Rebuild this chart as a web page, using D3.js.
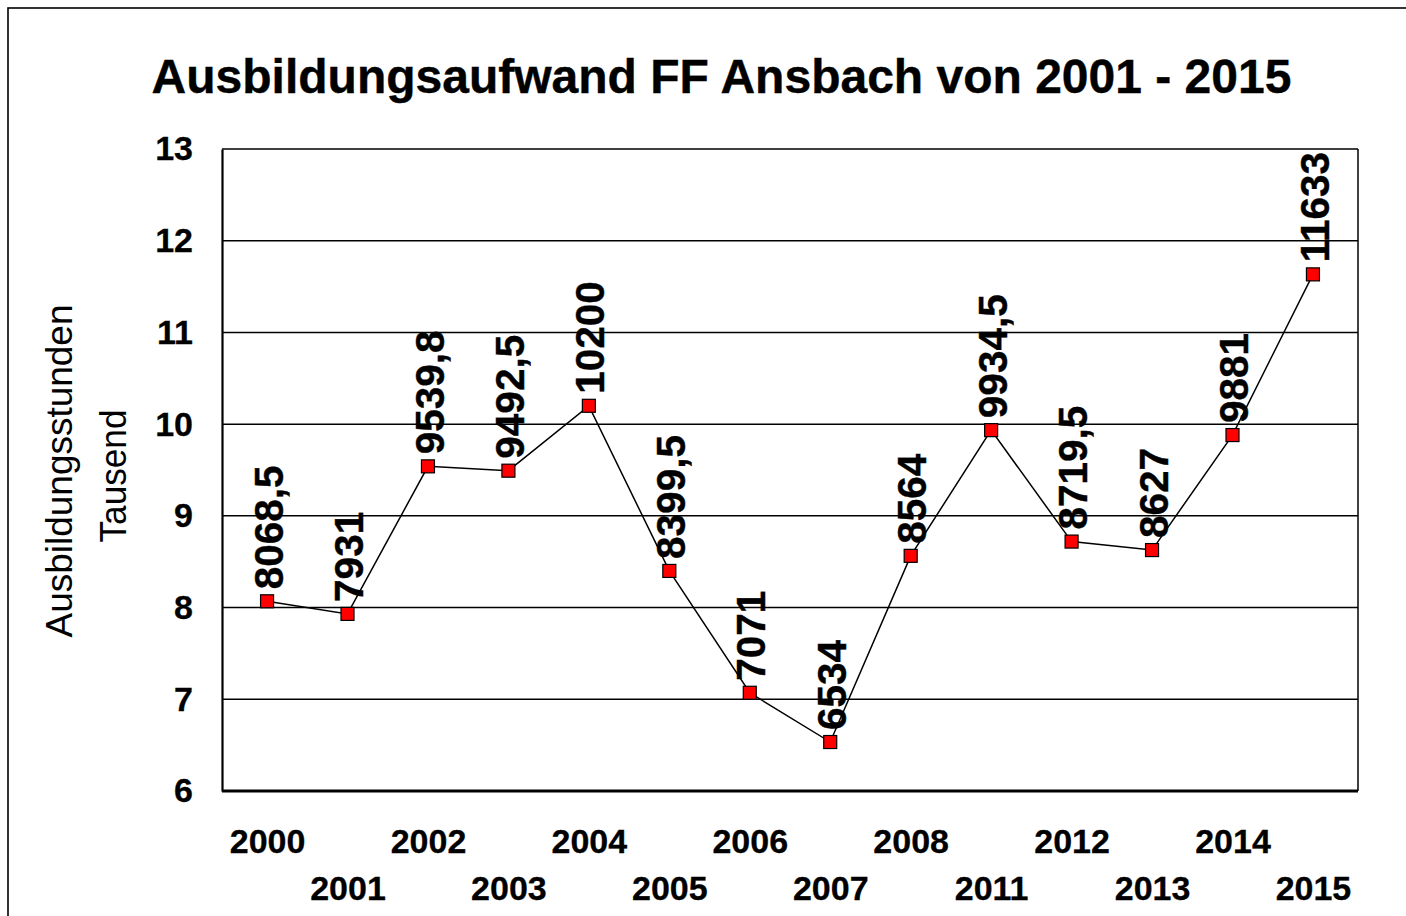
<!DOCTYPE html>
<html>
<head>
<meta charset="utf-8">
<script src="https://cdn.jsdelivr.net/npm/d3@7"></script>
<style>
html,body{margin:0;padding:0;background:#fff;}
svg{display:block;}
text{font-family:"Liberation Sans",Arial,sans-serif;fill:#000;}
</style>
</head>
<body>
<svg id="chart" width="1406" height="916"></svg>
<script>
const categories = ["2000","2001","2002","2003","2004","2005","2006","2007","2008","2011","2012","2013","2014","2015"];
const values = [8068.5, 7931, 9539.8, 9492.5, 10200, 8399.5, 7071, 6534, 8564, 9934.5, 8719.5, 8627, 9881, 11633];
const yTicks = [6, 7, 8, 9, 10, 11, 12, 13];
const titleText = "Ausbildungsaufwand FF Ansbach von 2001 - 2015";
const yTitleLines = ["Ausbildungsstunden", "Tausend"];

const svg = d3.select("#chart");
const plot = {left: 222, right: 1358, top: 149, bottom: 791};

// outer frame
svg.append("rect").attr("x", 8).attr("y", 8).attr("width", 1420).attr("height", 940)
  .attr("fill", "none").attr("stroke", "#000").attr("stroke-width", 1.6);

const x = d3.scalePoint().domain(categories).range([plot.left, plot.right]).padding(0.56);
const y = d3.scaleLinear().domain([6, 13]).range([plot.bottom, plot.top]);

// title
svg.append("text").attr("x", 721.5).attr("y", 93).attr("text-anchor", "middle")
  .attr("font-size", 48).attr("font-weight", "bold")
  .attr("stroke", "#000").attr("stroke-width", 0.4).text(titleText);

// gridlines
svg.append("g").selectAll("line").data(yTicks.filter(t => t > 6 && t < 13)).join("line")
  .attr("x1", plot.left).attr("x2", plot.right)
  .attr("y1", d => y(d)).attr("y2", d => y(d))
  .attr("stroke", "#000").attr("stroke-width", 1.5);

// plot border
svg.append("line").attr("x1", plot.left).attr("x2", plot.right).attr("y1", plot.top).attr("y2", plot.top)
  .attr("stroke", "#000").attr("stroke-width", 1.5);
svg.append("line").attr("x1", plot.right).attr("x2", plot.right).attr("y1", plot.top).attr("y2", plot.bottom)
  .attr("stroke", "#000").attr("stroke-width", 1.5);

// y axis
const yAxis = d3.axisLeft(y).tickValues(yTicks).tickSize(0).tickPadding(29).tickFormat(d3.format("d"));
const gy = svg.append("g").attr("transform", `translate(${plot.left},0)`).call(yAxis);
gy.select(".domain").attr("stroke", "#000").attr("stroke-width", 2.2);
gy.selectAll(".tick text").attr("font-size", 34).attr("font-weight", "bold")
  .attr("font-family", "Liberation Sans, Arial, sans-serif").attr("fill", "#000")
  .attr("stroke", "#000").attr("stroke-width", 0.3);

// x axis
const xAxis = d3.axisBottom(x).tickSize(0).tickSizeOuter(0);
const gx = svg.append("g").attr("transform", `translate(0,${plot.bottom})`).call(xAxis);
gx.select(".domain").attr("d", `M${plot.left},0H${plot.right}`).attr("stroke", "#000").attr("stroke-width", 2.8);
gx.selectAll(".tick text").attr("font-size", 34).attr("font-weight", "bold")
  .attr("font-family", "Liberation Sans, Arial, sans-serif").attr("fill", "#000")
  .attr("stroke", "#000").attr("stroke-width", 0.3)
  .attr("dy", null)
  .attr("y", (d, i) => i % 2 === 0 ? 62 : 109);

// y title
const yt = svg.append("g").attr("transform", "translate(0,471) rotate(-90)");
yt.append("text").attr("x", 0).attr("y", 72).attr("text-anchor", "middle")
  .attr("font-size", 36).attr("textLength", 333).attr("lengthAdjust", "spacingAndGlyphs").text(yTitleLines[0]);
yt.append("text").attr("x", -5).attr("y", 126).attr("text-anchor", "middle")
  .attr("font-size", 36).attr("textLength", 133).attr("lengthAdjust", "spacingAndGlyphs").text(yTitleLines[1]);

const data = categories.map((c, i) => ({c, v: values[i]}));

// line
svg.append("path").datum(data)
  .attr("d", d3.line().x(d => x(d.c)).y(d => y(d.v / 1000)))
  .attr("fill", "none").attr("stroke", "#000").attr("stroke-width", 1.5);

// markers
const ms = 13;
svg.append("g").selectAll("rect").data(data).join("rect")
  .attr("x", d => x(d.c) - ms / 2).attr("y", d => y(d.v / 1000) - ms / 2)
  .attr("width", ms).attr("height", ms)
  .attr("fill", "#ff0000").attr("stroke", "#000").attr("stroke-width", 1.2);

// labels
const fmt = v => String(v).replace(".", ",");
svg.append("g").selectAll("text").data(data).join("text")
  .attr("transform", d => `translate(${x(d.c) + 1},${y(d.v / 1000) - 12}) rotate(-90)`)
  .attr("dy", "0.36em")
  .attr("font-size", 40.5).attr("font-weight", "bold")
  .attr("stroke", "#000").attr("stroke-width", 0.4)
  .text(d => fmt(d.v));
</script>
</body>
</html>
